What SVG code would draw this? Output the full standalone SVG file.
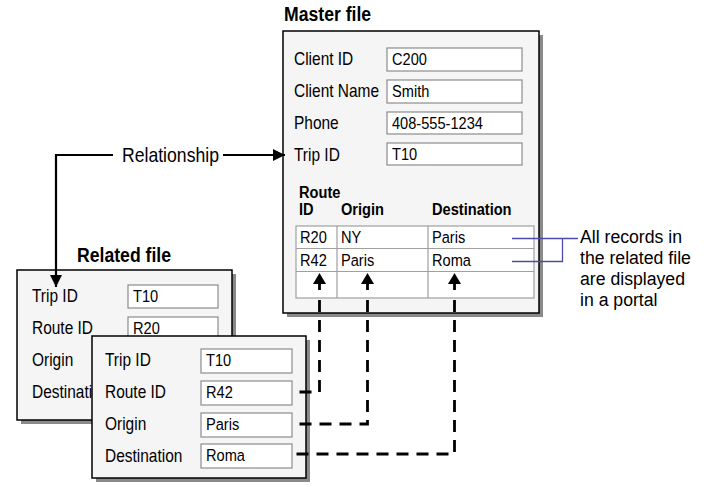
<svg xmlns="http://www.w3.org/2000/svg" width="708" height="487" viewBox="0 0 708 487">
<style>
.box{fill:#f5f5f5;stroke:#000;stroke-width:1.5}
.shadow{fill:#8a8a8a}
.field{fill:#fff;stroke:#8c8c8c;stroke-width:1.2}
.t{font-family:"Liberation Sans",Arial,sans-serif;font-size:18px;fill:#000;transform-box:fill-box;transform-origin:0 0;transform:scaleX(0.86)}
.v{font-size:17px}
.h{font-weight:bold;font-size:17px}
.hd{font-weight:bold;font-size:20.5px}
.big{font-size:20.5px}
.n{font-size:19px;transform:scaleX(0.93)}
.grid{stroke:#a0a0a0;stroke-width:1.2;fill:none}
.dash{stroke:#000;stroke-width:2.8;fill:none;stroke-dasharray:12 8}
.solid{stroke:#000;stroke-width:2.8;fill:none}
.conn{stroke:#000;stroke-width:2.2;fill:none}
.blue{stroke:#4b4ba8;stroke-width:1.3;fill:none}
</style>
<defs>
<marker id="ah" markerUnits="userSpaceOnUse" markerWidth="12" markerHeight="12" viewBox="0 0 12 12" refX="12" refY="6" orient="auto">
<path d="M0,0 L12,6 L0,12 z" fill="#000"/>
</marker>
</defs>

<g id="master">
<rect class="shadow" x="287" y="35" width="256" height="282"/>
<rect class="box" x="283" y="31" width="256" height="282"/>
<text class="t hd" x="284" y="21">Master file</text>
<text class="t" x="294" y="65">Client ID</text>
<rect class="field" x="387" y="48" width="135" height="23"/>
<text class="t v" x="392" y="65">C200</text>
<text class="t" x="294" y="97">Client Name</text>
<rect class="field" x="387" y="80" width="135" height="23"/>
<text class="t v" x="392" y="97">Smith</text>
<text class="t" x="294" y="129">Phone</text>
<rect class="field" x="387" y="112" width="135" height="22"/>
<text class="t v" x="392" y="129">408-555-1234</text>
<text class="t" x="294" y="161">Trip ID</text>
<rect class="field" x="387" y="143" width="135" height="22"/>
<text class="t v" x="392" y="160">T10</text>
<g id="portal">
<text class="t h" x="299" y="198">Route</text>
<text class="t h" x="299" y="215">ID</text>
<text class="t h" x="341" y="215">Origin</text>
<text class="t h" x="432" y="215">Destination</text>
<rect x="296" y="226" width="238" height="72" fill="#fff" stroke="#a0a0a0" stroke-width="1.2"/>
<path class="grid" d="M296,248.5 H534 M296,271.5 H534 M337,226 V298 M428,226 V298"/>
<text class="t v" x="300" y="243">R20</text>
<text class="t v" x="341" y="243">NY</text>
<text class="t v" x="432" y="243">Paris</text>
<text class="t v" x="300" y="266">R42</text>
<text class="t v" x="341" y="266">Paris</text>
<text class="t v" x="432" y="266">Roma</text>
</g>
</g>

<g id="related-back">
<rect class="shadow" x="21" y="274" width="215" height="150"/>
<rect class="box" x="17" y="270" width="215" height="150"/>
<text class="t hd" x="77" y="262">Related file</text>
<text class="t" x="32" y="302">Trip ID</text>
<rect class="field" x="128" y="285" width="90" height="23"/>
<text class="t v" x="133" y="302">T10</text>
<text class="t" x="32" y="334">Route ID</text>
<rect class="field" x="128" y="317" width="90" height="23"/>
<text class="t v" x="133" y="334">R20</text>
<text class="t" x="32" y="366">Origin</text>
<text class="t" x="32" y="398">Destination</text>
</g>

<g id="related-front">
<rect class="shadow" x="96" y="340" width="214" height="142"/>
<rect class="box" x="92" y="336" width="214" height="142"/>
<text class="t" x="105" y="366">Trip ID</text>
<rect class="field" x="201" y="349" width="91" height="24"/>
<text class="t v" x="206" y="366">T10</text>
<text class="t" x="105" y="398">Route ID</text>
<rect class="field" x="201" y="381" width="91" height="24"/>
<text class="t v" x="206" y="398">R42</text>
<text class="t" x="105" y="430">Origin</text>
<rect class="field" x="201" y="413" width="91" height="24"/>
<text class="t v" x="206" y="430">Paris</text>
<text class="t" x="105" y="462">Destination</text>
<rect class="field" x="201" y="444" width="91" height="24"/>
<text class="t v" x="206" y="461">Roma</text>
</g>

<g id="note">
<text class="t n" x="580" y="243">All records in</text>
<text class="t n" x="580" y="264">the related file</text>
<text class="t n" x="580" y="285">are displayed</text>
<text class="t n" x="580" y="306">in a portal</text>
</g>

<g id="connectors">
<text class="t big" x="122" y="162">Relationship</text>
<path class="conn" d="M113,155 H56 V287" marker-end="url(#ah)"/>
<path class="conn" d="M223,155 H285" marker-end="url(#ah)"/>
<path class="blue" d="M512,238.5 H562.5 V261.5 H512 M562.5,238.5 H578"/>
<path class="solid" d="M319.5,283 V290 M367.5,283 V290 M454.5,283 V290"/>
<polygon points="313,284 319.5,273 326,284" fill="#000"/>
<polygon points="361,284 367.5,273 374,284" fill="#000"/>
<polygon points="448,284 454.5,273 461,284" fill="#000"/>
<path class="dash" d="M319.5,300 V392 H294"/>
<path class="dash" d="M367.5,300 V424 H294"/>
<path class="dash" d="M454.5,300 V454 H294"/>
</g>
</svg>
